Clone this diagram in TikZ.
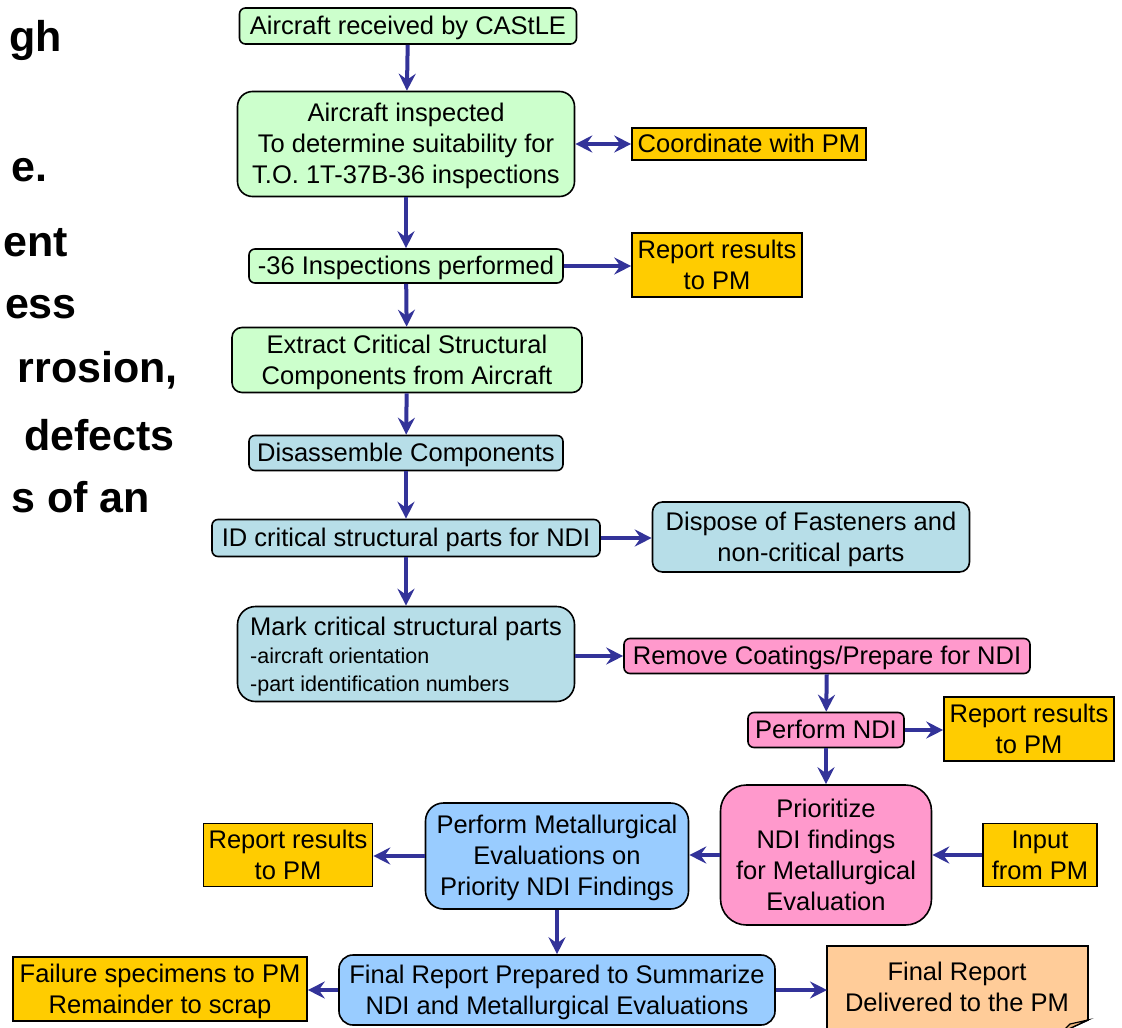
\documentclass[tikz,border=0pt]{standalone}
\usepackage{fontspec}
\setmainfont{Liberation Sans}
\usetikzlibrary{arrows.meta}
\definecolor{gfill}{HTML}{CCFFCC}
\definecolor{tfill}{HTML}{B7DEE8}
\definecolor{pfill}{HTML}{FF99CC}
\definecolor{bfill}{HTML}{99CCFF}
\definecolor{yfill}{HTML}{FFCC00}
\definecolor{ofill}{HTML}{FFCC99}
\definecolor{arr}{HTML}{333399}
\newcommand\tps{\rule[-0.212em]{0pt}{1.1em}}
\tikzset{
  box/.style={draw=black, line width=1.6pt, inner sep=0pt, align=center,
    font=\fontsize{25.5}{31}\selectfont},
  gbox/.style={box, fill=gfill},
  tbox/.style={box, fill=tfill},
  pbox/.style={box, fill=pfill},
  bbox/.style={box, fill=bfill},
  ybox/.style={box, fill=yfill},
  flow/.style={draw=arr, line width=4pt, -{Stealth[length=17pt,width=17pt,inset=6pt]}},
  dflow/.style={draw=arr, line width=4pt, {Stealth[length=17pt,width=17pt,inset=6pt]}-{Stealth[length=17pt,width=17pt,inset=6pt]}},
  side/.style={anchor=east, inner sep=0pt, font=\fontsize{43}{50}\selectfont\bfseries}
}
\begin{document}
\begin{tikzpicture}[x=1pt,y=-1pt]
\useasboundingbox (0,0) rectangle (1122,1028);
\begin{scope}
\clip (0,0) rectangle (1122,1028);
% left cut-off text
\node[side] (s1) at (62,40) {gh};
\node[side] (s2) at (48,170) {e.};
\node[side] (s3) at (68,243) {ent};
\node[side] (s4) at (77,307) {ess};
\node[side] (s5) at (178,370) {rrosion,};
\node[side] (s6) at (175,435) {defects};
\node[side] (s7) at (150,497) {s of an};

% flow nodes
\node[gbox, rounded corners=6pt, minimum width=337, minimum height=36] (n1) at (408,26) {\tps Aircraft received by CAStLE};
\node[gbox, rounded corners=15pt, minimum width=337, minimum height=105] (n2) at (406,144) {\tps Aircraft inspected\\To determine suitability for\\T.O. 1T-37B-36 inspections\tps};
\node[ybox, minimum width=234, minimum height=32] (c1) at (749,144) {\tps Coordinate with PM};
\node[gbox, rounded corners=6pt, minimum width=314, minimum height=34] (n3) at (406,266) {\tps -36 Inspections performed};
\node[ybox, minimum width=170, minimum height=64] (r1) at (717,265) {\tps Report results\\to PM\tps};
\node[gbox, rounded corners=10pt, minimum width=350, minimum height=65] (n4) at (407,360) {\tps Extract Critical Structural\\Components from Aircraft\tps};
\node[tbox, rounded corners=6pt, minimum width=314, minimum height=35] (n5) at (406,453) {\tps Disassemble Components};
\node[tbox, rounded corners=6pt, minimum width=388, minimum height=37] (n6) at (406,538) {\tps ID critical structural parts for NDI};
\node[tbox, rounded corners=10pt, minimum width=317, minimum height=70] (d1) at (811,537) {\tps Dispose of Fasteners and\\non-critical parts\tps};
\node[tbox, rounded corners=18pt, minimum width=337, minimum height=95, align=left, inner xsep=9pt] (n7) at (406,654) {\tps Mark critical structural parts\\[-3pt]{\fontsize{21.5}{27}\selectfont -aircraft orientation}\\[-3pt]{\fontsize{21.5}{27}\selectfont -part identification numbers\tps}};
\node[pbox, rounded corners=6pt, minimum width=406, minimum height=35] (n8) at (827,656) {\tps Remove Coatings/Prepare for NDI};
\node[pbox, rounded corners=6pt, minimum width=156, minimum height=35] (n9) at (826,730) {\tps Perform NDI};
\node[ybox, minimum width=170, minimum height=64] (r2) at (1029,729) {\tps Report results\\to PM\tps};
\node[pbox, rounded corners=26pt, minimum width=211, minimum height=140] (n10) at (826,855) {\tps Prioritize\\NDI findings\\for Metallurgical\\Evaluation\tps};
\node[ybox, minimum width=114, minimum height=63] (i1) at (1040,855) {\tps Input\\from PM\tps};
\node[bbox, rounded corners=18pt, minimum width=263, minimum height=106] (n11) at (557,856) {\tps Perform Metallurgical\\Evaluations on\\Priority NDI Findings\tps};
\node[ybox, minimum width=169, minimum height=63] (r3) at (288,855) {\tps Report results\\to PM\tps};
\node[bbox, rounded corners=14pt, minimum width=436, minimum height=70] (n12) at (557,990) {\tps Final Report Prepared to Summarize\\NDI and Metallurgical Evaluations\tps};
\node[ybox, minimum width=294, minimum height=64] (f1) at (160,989) {\tps Failure specimens to PM\\Remainder to scrap\tps};
% note shape with folded corner
\draw[line width=1.6pt, fill=ofill] (827,946) -- (1088,946) -- (1088,1020) -- (1062,1032) -- (827,1032) -- cycle;
\draw[line width=1.2pt, fill=ofill!70!brown] (1088,1020) -- (1062,1032) -- (1070,1024) -- cycle;
\node[inner sep=0pt, align=center, font=\fontsize{25.5}{31}\selectfont] (n13) at (957,987) {\tps Final Report\\Delivered to the PM\tps};
\coordinate (n13w) at (827,990);

% connectors
\draw[flow] (n1) -- (n2);
\draw[dflow] (n2.east) -- (c1.west);
\draw[flow] (n2) -- (n3);
\draw[flow] (n3.east) -- (n3.east -| r1.west);
\draw[flow] (n3) -- (n4);
\draw[flow] (n4) -- (n5);
\draw[flow] (n5) -- (n6);
\draw[flow] (n6.east) -- (n6.east -| d1.west);
\draw[flow] (n6) -- (n7);
\draw[flow] (n7.east |- n8) -- (n8.west);
\draw[flow] (n8) -- (n9);
\draw[flow] (n9.east) -- (n9.east -| r2.west);
\draw[flow] (n9) -- (n10);
\draw[flow] (i1.west) -- (i1.west -| n10.east);
\draw[flow] (n10.west) -- (n10.west -| n11.east);
\draw[flow] (n11.west) -- (n11.west -| r3.east);
\draw[flow] (n11) -- (n12);
\draw[flow] (n12.west) -- (n12.west -| f1.east);
\draw[flow] (n12.east) -- (n13w);
\end{scope}
\end{tikzpicture}
\end{document}
